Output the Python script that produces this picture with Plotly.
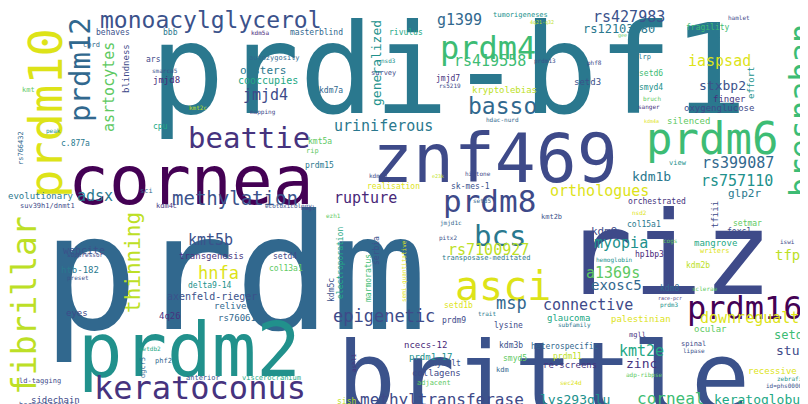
import plotly.graph_objects as go

V = {"p":"#440154","P":"#482878","q":"#46337e","b":"#3e4a89","B":"#3b528b","t":"#31688e","T":"#2a788e",
     "c":"#21918c","g":"#22a884","G":"#3dbc74","l":"#5ec962","y":"#bddf26","Y":"#dde318"}

words = ["prdm","prdi-bf1","riz","brittle","znf469","cornea","prdm2","prdm10","prdm6","asci","keratoconus",
 "bcs","prdm16","prdm8","prdm4","bresnahan","fibrillar","monoacylglycerol","beattie","methylation","basso",
 "uriniferous","epigenetic","rupture","thinning","asrtocytes","prdm12","kmt5b","adsx","hnfa","jmjd4",
 "rs419558","g1399","rs427983","rs12103880","iaspsad","stxbp2","rs399087","rs757110","kdm1b","glp2r",
 "orthologues","myopia","kdm9","tfpg","tfiii","a1369s","exosc5","rs7100927","msp","connective",
 "methyltransferase","corneal","keratoglobus","lys293glu","downregualted","setd9","stub","kmt2e","zinc",
 "generalized","blindness","rs766432","electroporation","marmoratus","serbia","semi-quantitative","kdm5c","dgcr5","ashl1","effort",
 "behaves","bbb","cord","ars","jmjd8","smarca5","oysters","autozygosity","cooccupies","kdm7a","kdm5a","masterblind","rivulus",
 "kmt","peak","c.877a","cpu","kmt2c","mapping","kmt5a","rip","prdm15","kdm5b","realisation","evolutionary","suv39h1/dnmt1",
 "sci","kdm4c","magl","ecotoxicology","webcite","suppressor","transgenesis","setd4","htb-182","col13a1","preset","delta9-14",
 "ezh1","axenfeld-rieger","relived","eyes","4q26","rs7606173","setdb2","phf2","ld-tagging","anterior","viscerocranium",
 "sidechain","hermaphroditic","setd1a","sish","kmt2b","col15a1","hp1bp3","jmjd1c","pitx2","transposase-meditated","cogs",
 "hemoglobin","nsd2","setmar","foxc1","mangrove","writers","iswi","kdm2b","kdm8","sclerae","race-pcr","prdm3","setd1b",
 "prdm9","trait","lysine","glaucoma","subfamily","palestinian","ocular","mgll","ncecs-12","prdm1-17","kdm3b","heterospecific",
 "spinal","lipase","smyd5","prdm11","nyholt","kdm","re-screens","collagens","recessive","adp-ribpse","zebrafish","adjacent",
 "sec24d","id=phs000007","tumorigeneses","4q21-q32","fragility","hamlet","prdm13","phf8","slrp","jmjd7","rs5219","setd3",
 "setd6","smyd4","kryptolebias","finger","bruch","oxygenglucose","sanger","silenced","kdm4a","hdac-nurd","view","histone",
 "e23k","sk-mes-1","orchestrated","setd5","gee","nsd3","survey"]
xs = [226,440,660,535,487,183,181,37,704,495,192,
 492,737,481,480,793,16,203,241,227,494,
 375,376,357,125,101,72,202,87,210,257,
 482,451,621,611,711,714,730,729,643,736,
 591,613,596,784,707,605,608,480,503,580,
 434,662,753,567,750,784,783,633,633,
 368,118,13,332,360,368,396,323,135,345,743,
 105,162,83,145,158,157,255,266,260,323,252,308,398,
 20,45,67,152,190,255,312,304,311,370,385,33,39,
 138,158,300,280,76,77,203,277,72,278,70,202,
 325,204,225,69,162,234,142,155,32,195,263,
 47,40,205,338,543,636,641,443,440,478,662,
 606,631,739,731,707,707,779,690,661,697,662,661,450,
 446,479,500,560,566,633,702,629,417,422,503,557,
 685,686,507,559,438,494,562,428,764,636,785,426,
 563,780,512,534,700,731,537,586,634,440,442,579,
 643,643,496,721,644,711,641,680,643,494,670,470,
 430,462,649,474,614,380,375]
ys = [265,62,245,370,150,172,342,105,130,278,380,
 228,300,193,40,103,298,12,130,190,98,
 118,308,190,255,79,62,232,188,265,87,
 53,12,9,21,53,77,155,173,168,185,
 183,235,223,247,207,265,277,242,295,297,
 391,390,391,391,310,327,342,343,355,
 55,61,140,255,270,243,263,282,360,355,75,
 24,24,37,51,72,62,62,50,72,82,24,24,24,
 82,123,135,118,99,104,133,143,157,167,178,188,198,
 183,198,200,198,242,247,248,248,262,260,270,277,
 207,288,298,305,308,310,340,353,373,370,370,
 392,397,398,393,209,216,246,215,230,250,233,
 252,204,215,223,235,243,233,257,280,280,290,297,297,
 312,305,317,310,317,311,321,327,337,349,337,338,
 336,343,350,348,355,362,357,365,363,367,370,375,
 374,378,7,14,19,9,53,55,49,70,77,74,
 65,79,82,91,90,100,99,113,113,111,155,165,
 168,178,193,192,27,52,65]
sizes = [160,124,116,98,68,68,74,47,44,40,32,
 29,32,31,32,32,33,23,29,19,23,
 15,17,15,21,15,29,15,15,17,15,
 15,15,15,12,15,13,15,15,13,11,
 15,15,11,14,9,15,14,15,17,15,
 16,16,13,13,15,12,13,15,13,
 13,9,7,8,8,8,6,8,7,6,9,
 8,8,7,8,9,6,11,7,10,8,6,8,8,
 7,6,8,8,6,6,8,7,8,6,8,9,7,
 7,7,6,6,10,6,9,8,9,8,6,8,
 6,10,9,9,9,9,6,7,7,7,7,
 9,7,6,8,7,8,8,6,6,7,6,
 6,6,8,8,9,7,6,8,8,6,5,6,8,
 8,6,8,9,6,9,9,7,9,9,8,8,
 7,6,8,8,8,7,9,9,9,6,6,7,
 6,6,7,5,8,6,6,6,7,8,6,9,
 8,8,9,9,6,9,6,9,5,6,7,6,
 5,8,8,6,5,6,7]
angles = [0]*len(words)
for w in ["prdm10","bresnahan","fibrillar","thinning","asrtocytes","prdm12","generalized","blindness","rs766432",
          "electroporation","marmoratus","serbia","semi-quantitative","kdm5c","dgcr5","ashl1","effort","tfiii"]:
    angles[words.index(w)] = -90
ccodes = ("tTbBbpcYGYq"
 "TpbGGyBqBtT"
 "bPyltBTYbGt"
 "BTYBtcTTYcb"
 "ybltytbbGgc"
 "YGbgqcbtg"
 "GBYBtqcBTtbP"
 "BTtgtPtglcTgy"
 "bllTbYTbtqbB"
 "BbqbTlBclBtb"
 "qtgtbBgbBTyBT"
 "PtBTlcYlbgYb"
 "ytlqcYbTbgTYlqPcB"
 "tbBlyBtqbYlcl"
 "YBcyGbBbTqbBGcyq"
 "lbqlYtcbyBqtlc"
 "bBtqqGlyYBt"
 "YcbqqcglbBtc"
 "bBtbqcYqY")
colors = [V[c] for c in ccodes] + ["#31688e"]*max(0, len(words)-len(ccodes))
colors = colors[:len(words)]

fig = go.Figure()
fig.add_trace(go.Scatter(x=[0, 808], y=[0, 404], mode="markers", marker=dict(opacity=0), hoverinfo="skip"))
for w, x, y, s, a, c in zip(words, xs, ys, sizes, angles, colors):
    fig.add_annotation(x=x, y=y, text=w, showarrow=False, textangle=a, xanchor="center", yanchor="middle",
                       font=dict(family="DejaVu Sans Mono", size=s, color=c))
fig.update_layout(width=808, height=404, margin=dict(l=0, r=0, t=0, b=0), plot_bgcolor="white",
                  paper_bgcolor="white", showlegend=False,
                  xaxis=dict(range=[0, 808], visible=False, fixedrange=True),
                  yaxis=dict(range=[404, 0], visible=False, fixedrange=True))
fig.write_html("out.html")
